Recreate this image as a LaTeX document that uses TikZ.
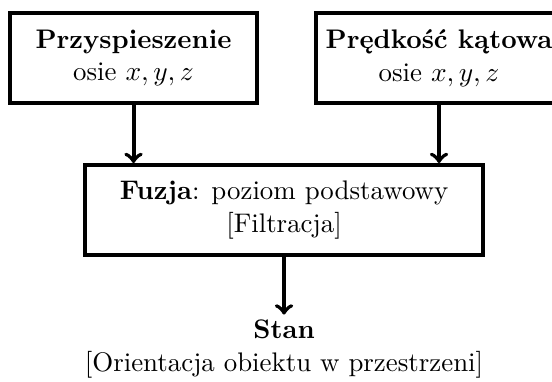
\documentclass[tikz,border=0pt]{standalone}
\usepackage{fontspec}
\usepackage{amsmath}
\usetikzlibrary{positioning}

\begin{document}
\begin{tikzpicture}[
    font=\fontsize{10.75pt}{13pt}\selectfont,
    box/.style={rectangle, draw=black, ultra thick, minimum height=1.265cm, minimum width=3.47cm, inner sep=1pt, align=center}
]
    \useasboundingbox (0,0) rectangle (7.76,5.357);
    % Sensors
    \node[box] (acc) at (1.877,4.541) {\textbf{Przyspieszenie}\\osie $x,y,z$};
    \node[box] (gyro) at (6.172,4.541) {\textbf{Prędkość kątowa}\\osie $x,y,z$};
    % Fusion
    \node[box, minimum width=5.595cm] (fusion) at (3.993,2.404) {\textbf{Fuzja}: poziom podstawowy\\{[Filtracja]}};
    % Output
    \node[align=center, inner sep=2pt] (state) at (3.993,0.45) {\textbf{Stan}\\{[Orientacja obiektu w przestrzeni]}};

    % Arrows
    \draw[->, ultra thick] (acc) -- (acc |- fusion.north);
    \draw[->, ultra thick] (gyro) -- (gyro |- fusion.north);
    \draw[->, ultra thick] (fusion) -- (state);
\end{tikzpicture}
\end{document}
